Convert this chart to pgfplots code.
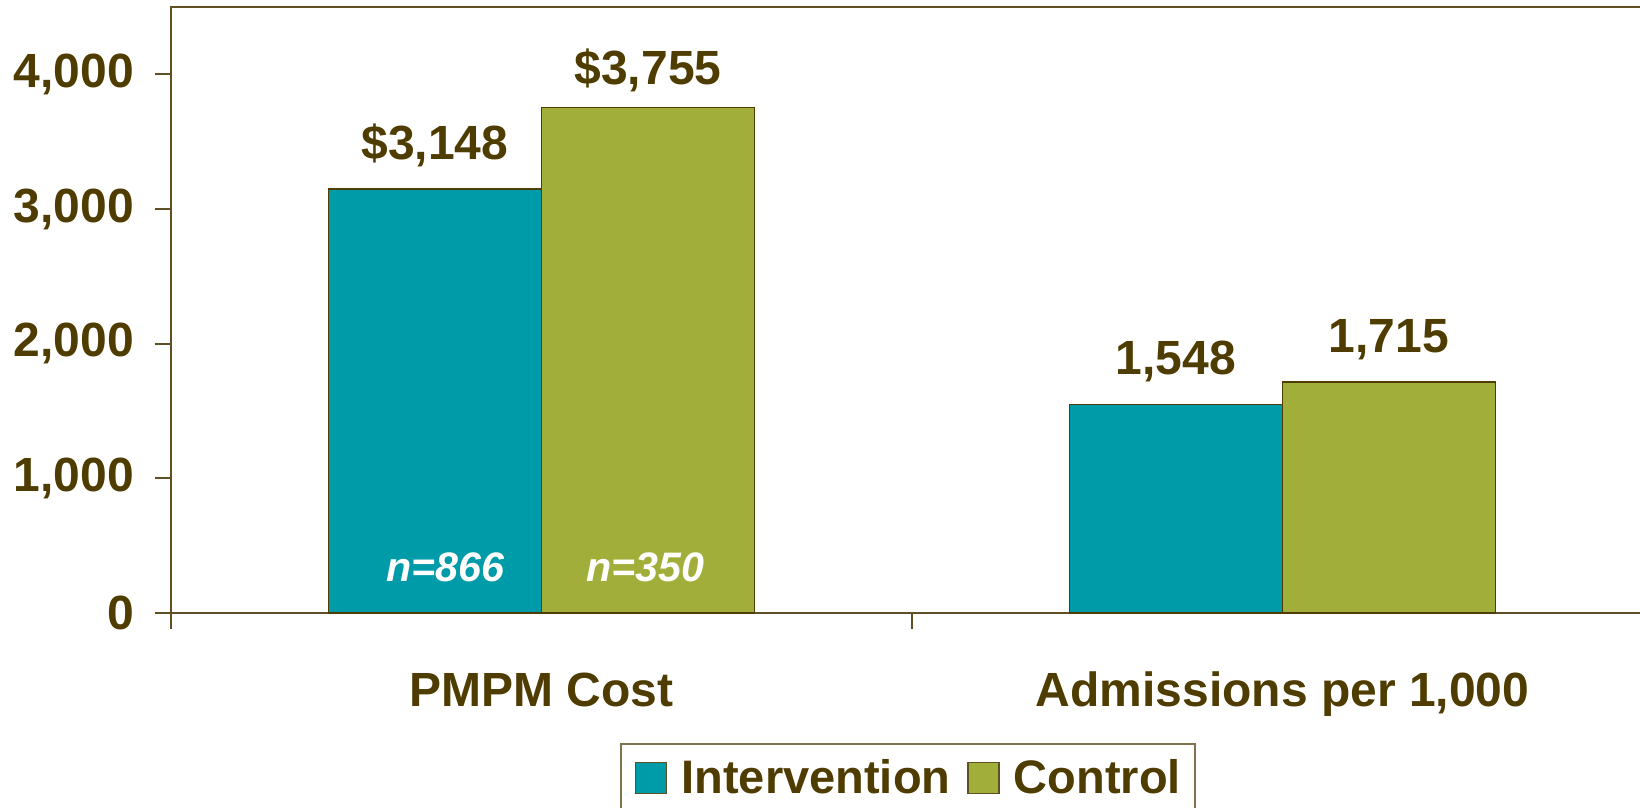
\documentclass[border=0pt]{standalone}
\usepackage{pgfplots}
\pgfplotsset{compat=1.18}
\usepackage{fontspec}
\setmainfont{Liberation Sans}
\definecolor{txtbrown}{RGB}{79,60,0}
\definecolor{linebrown}{RGB}{95,80,35}
\definecolor{teal1}{RGB}{0,155,168}
\definecolor{olive1}{RGB}{161,175,58}
\begin{document}
\begin{tikzpicture}
\begin{axis}[
  scale only axis,
  width=741pt, height=303pt,
  xmin=-0.5, xmax=1.5, ymin=0, ymax=4500,
  ybar=0pt, bar width=106.5pt,
  axis line style={linebrown, line width=0.9pt},
  xtick={-0.5,0.5,1.5}, xticklabels={},
  ytick={0,1000,2000,3000,4000},
  xtick pos=lower, ytick pos=left,
  tick align=outside,
  major tick length=8pt,
  tick style={linebrown, line width=0.9pt},
  /pgf/number format/assume math mode=true,
  /pgf/number format/1000 sep={,},
  yticklabel style={font=\bfseries\fontsize{24}{24}\selectfont, text=txtbrown, anchor=east, xshift=-7pt},
  point meta=explicit symbolic,
  nodes near coords,
  every node near coord/.append style={font=\bfseries\fontsize{24}{24}\selectfont, text=txtbrown, anchor=base, yshift=15pt},
  legend columns=2,
  legend style={at={(0.4973,0)}, anchor=north, yshift=-65pt, draw=linebrown!80, line width=0.9pt,
    font=\bfseries\fontsize{23.5}{23.5}\selectfont, text=txtbrown,
    inner xsep=7pt, inner ysep=6pt,
    nodes={inner xsep=0pt, inner ysep=2pt},
    /tikz/every odd column/.append style={column sep=7pt},
    /tikz/every even column/.append style={column sep=8.5pt}},
  legend image code/.code={\draw[#1, draw=linebrown, line width=0.7pt] (0pt,-7.5pt) rectangle (15.5pt,8pt);},
  clip=false,
]
\addplot[fill=teal1, draw=txtbrown, line width=0.7pt] coordinates {(0,3148) [\$3,148] (1,1548) [1,548]};
\addplot[fill=olive1, draw=txtbrown, line width=0.7pt] coordinates {(0,3755) [\raisebox{-3.5pt}{\$3,755}] (1,1715) [1,715]};
\legend{Intervention, Control}
\node[anchor=base, font=\bfseries\itshape\fontsize{20.6}{20.6}\selectfont, text=white, xshift=-48pt, yshift=15.5pt] at (axis cs:0,0) {n=866};
\node[anchor=base, font=\bfseries\itshape\fontsize{20.6}{20.6}\selectfont, text=white, xshift=52pt, yshift=15.5pt] at (axis cs:0,0) {n=350};
\node[anchor=base, font=\bfseries\fontsize{24}{24}\selectfont, text=txtbrown, yshift=-47pt] at (axis cs:0,0) {PMPM Cost};
\node[anchor=base, font=\bfseries\fontsize{24}{24}\selectfont, text=txtbrown, yshift=-47pt] at (axis cs:1,0) {Admissions per 1,000};
\coordinate (O) at (rel axis cs:0,0);
\end{axis}
\pgfresetboundingbox
\path[use as bounding box] ([shift={(-85.5pt,-97.5pt)}]O) rectangle ++(820pt,404pt);
\end{tikzpicture}
\end{document}
